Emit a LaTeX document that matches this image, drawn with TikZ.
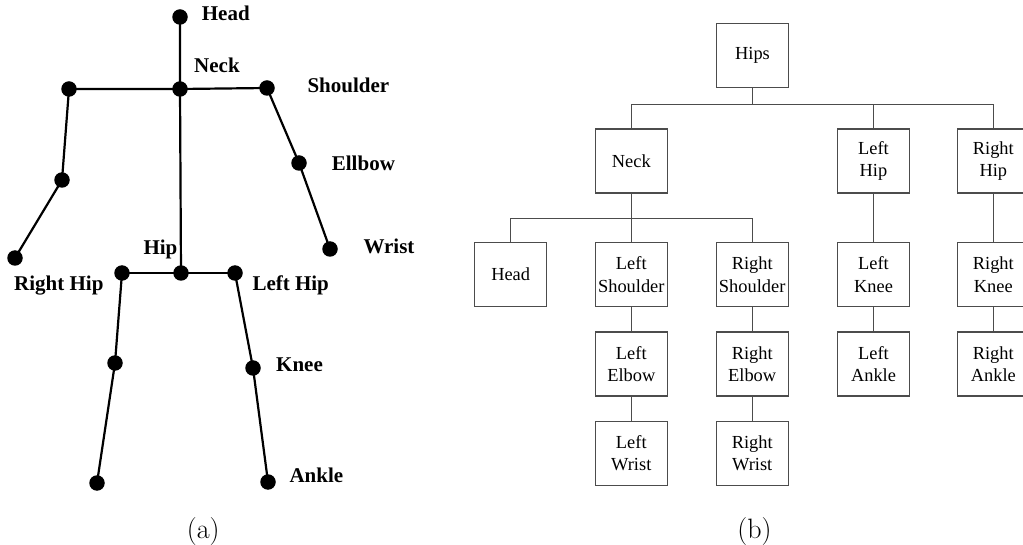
\documentclass[tikz,border=0pt]{standalone}
\usepackage{fontspec}
\newfontfamily\tnr{Liberation Serif}
\begin{document}
\begin{tikzpicture}[x=1pt,y=-1pt,
  bone/.style={line width=2.2pt, line cap=round},
  joint/.style={circle, fill=black, inner sep=0pt, minimum size=15.5pt},
  jlabel/.style={anchor=base west, inner sep=0pt, font=\tnr\bfseries\fontsize{21}{25}\selectfont},
  tbox/.style={draw=black!70, line width=1.3pt, minimum width=72pt, minimum height=64pt, inner sep=0pt, align=center, font=\tnr\fontsize{18.4}{22.3}\selectfont},
  link/.style={draw=black!70, line width=1.3pt},
  captext/.style={font=\fontsize{28}{34}\selectfont, anchor=base, inner sep=0pt}]
\clip (0,0) rectangle (1023,545);
\fill[white] (0,0) rectangle (1023,545);
% ---------------- (a) skeleton ----------------
\node[joint] (head) at (180,17) {};
\node[joint] (neck) at (180,89) {};
\node[joint] (lsh) at (69,89) {};
\node[joint] (rsh) at (267,88) {};
\node[joint] (lel) at (62,180) {};
\node[joint] (lwr) at (15,258) {};
\node[joint] (rel) at (299,163) {};
\node[joint] (rwr) at (330,249) {};
\node[joint] (hip) at (181,273) {};
\node[joint] (rhip) at (122,273) {};
\node[joint] (lhip) at (235,273) {};
\node[joint] (rkn) at (115,363) {};
\node[joint] (rank) at (97,483) {};
\node[joint] (lkn) at (253,368) {};
\node[joint] (lank) at (268,482) {};
\draw[bone] (head.center) -- (neck.center) -- (hip.center);
\draw[bone] (lsh.center) -- (neck.center) -- (rsh.center);
\draw[bone] (lsh.center) -- (lel.center) -- (lwr.center);
\draw[bone] (rsh.center) -- (rel.center) -- (rwr.center);
\draw[bone] (rhip.center) -- (hip.center) -- (lhip.center);
\draw[bone] (rhip.center) -- (rkn.center) -- (rank.center);
\draw[bone] (lhip.center) -- (lkn.center) -- (lank.center);
\node[jlabel] (tHead) at (201.7,20.7) {Head};
\node[jlabel] (tNeck) at (194,72.3) {Neck};
\node[jlabel] (tSh) at (307.3,92.3) {Shoulder};
\node[jlabel] (tEl) at (331.7,171) {Ellbow};
\node[jlabel] (tWr) at (363.3,254) {Wrist};
\node[jlabel] (tHip) at (143.3,255) {Hip};
\node[jlabel] (tRHip) at (14,290.7) {Right Hip};
\node[jlabel] (tLHip) at (252.3,290.7) {Left Hip};
\node[jlabel] (tKn) at (276,371) {Knee};
\node[jlabel] (tAn) at (289.3,482.7) {Ankle};
\node[captext] (capa) at (203.3,538) {(a)};
% ---------------- (b) hierarchy ----------------
\node[tbox] (bHips) at (752.5,55.5) {Hips};
\node[tbox] (bNeck) at (631.3,161) {Neck};
\node[tbox] (bLHip) at (873.5,161) {Left\\Hip};
\node[tbox] (bRHip) at (993.3,161) {Right\\Hip};
\node[tbox] (bHead) at (510.7,274.7) {Head};
\node[tbox] (bLSh) at (631.3,274.7) {Left\\Shoulder};
\node[tbox] (bRSh) at (752.2,274.7) {Right\\Shoulder};
\node[tbox] (bLKn) at (873.5,274.7) {Left\\Knee};
\node[tbox] (bRKn) at (993.3,274.7) {Right\\Knee};
\node[tbox] (bLEl) at (631.3,364) {Left\\Elbow};
\node[tbox] (bREl) at (752.2,364) {Right\\Elbow};
\node[tbox] (bLAn) at (873.5,364) {Left\\Ankle};
\node[tbox] (bRAn) at (993.3,364) {Right\\Ankle};
\node[tbox] (bLWr) at (631.3,453.5) {Left\\Wrist};
\node[tbox] (bRWr) at (752.2,453.5) {Right\\Wrist};
\coordinate (bus1) at (752.5,104.3);
\coordinate (bus2) at (631.3,218.3);
\draw[link] (bHips.south) -- (bHips.south |- bus1);
\draw[link] (bNeck.north) -- (bNeck.north |- bus1) -- (bRHip.north |- bus1) -- (bRHip.north);
\draw[link] (bLHip.north) -- (bLHip.north |- bus1);
\draw[link] (bNeck.south) -- (bNeck.south |- bus2);
\draw[link] (bHead.north) -- (bHead.north |- bus2) -- (bRSh.north |- bus2) -- (bRSh.north);
\draw[link] (bLSh.north) -- (bLSh.north |- bus2);
\draw[link] (bLSh) -- (bLEl);
\draw[link] (bLEl) -- (bLWr);
\draw[link] (bRSh) -- (bREl);
\draw[link] (bREl) -- (bRWr);
\draw[link] (bLHip) -- (bLKn);
\draw[link] (bLKn) -- (bLAn);
\draw[link] (bRHip) -- (bRKn);
\draw[link] (bRKn) -- (bRAn);
\node[captext] (capb) at (754.5,538) {(b)};
\end{tikzpicture}
\end{document}
